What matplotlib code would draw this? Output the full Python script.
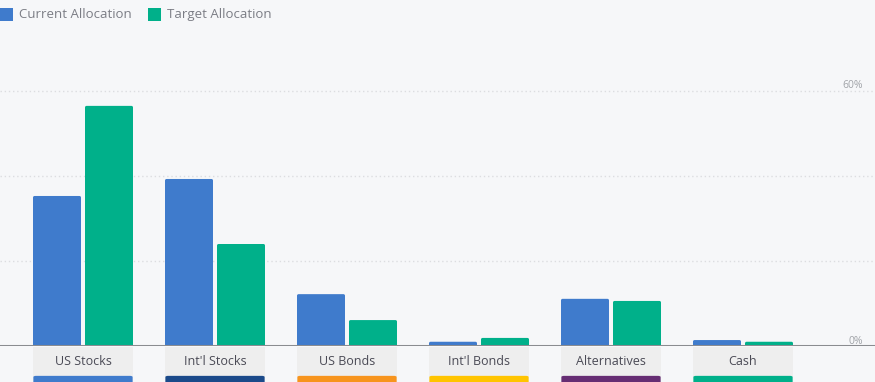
import matplotlib
matplotlib.use("Agg")
import matplotlib.pyplot as plt
from matplotlib.patches import FancyBboxPatch, Rectangle
import numpy as np

categories = ["US Stocks", "Int'l Stocks", "US Bonds", "Int'l Bonds", "Alternatives", "Cash"]
current = [35.3, 39.3, 12.2, 1.0, 11.1, 1.4]
target = [56.5, 24.0, 6.1, 1.9, 10.6, 1.0]
cat_colors = ["#3f7bcc", "#1b4a8a", "#f7941d", "#ffc400", "#662d73", "#00b08a"]
y_ticks = [0, 20, 40, 60]
y_labels = {0: "0%", 60: "60%"}

BLUE = "#3f7bcc"
GREEN = "#00b08a"
BG = "#f6f7f9"

plt.rcParams['font.family'] = ['Open Sans', 'DejaVu Sans']

W, H = 875, 382
fig = plt.figure(figsize=(W / 100, H / 100), dpi=100)
fig.patch.set_facecolor(BG)

# axes: x px 0..875, y px 346 (0%) .. 40
base_px = 346
top_px = 40
ppu = 4.25  # px per percent
ax = fig.add_axes([0, (H - base_px) / H, 1, (base_px - top_px) / H])
ax.set_facecolor(BG)
spacing = 132.0
c0 = 83.0
ax.set_xlim(-c0 / spacing, (W - c0) / spacing)
ax.set_ylim(0, (base_px - top_px) / ppu)
for s in ax.spines.values():
    s.set_visible(False)
ax.set_xticks([])
ax.set_yticks([])

x = np.arange(len(categories))
bw = 48 / spacing
off = 26 / spacing

# gridlines
for t in y_ticks[1:]:
    ax.axhline(t, color="#dcdde0", lw=1, ls=(0, (1, 2)), zorder=0)
ax.axhline(0, color="#8a8c90", lw=2.2, zorder=4)

def rbar(xc, h, color):
    r = 0.012
    p = FancyBboxPatch((xc - bw / 2 + r, 0), bw - 2 * r, max(h - r * spacing / ppu, 0.01),
                       boxstyle=f"round,pad={r},rounding_size={r}",
                       mutation_aspect=spacing / ppu,
                       facecolor=color, edgecolor="none", zorder=3)
    ax.add_patch(p)

for i in range(len(categories)):
    rbar(x[i] - off, current[i], BLUE)
    rbar(x[i] + off, target[i], GREEN)

for t, lab in y_labels.items():
    ax.text((863 - c0) / spacing, t + 5 / ppu, lab, ha="right", va="center",
            fontsize=7.5, color="#a0a3a8")

# category label boxes (figure pixel coords)
for i, (cat, col) in enumerate(zip(categories, cat_colors)):
    cx = c0 + spacing * i
    left = cx - 50
    # gray box
    fig.add_artist(Rectangle((left / W, 0), 100 / W, (H - 347) / H,
                             transform=fig.transFigure, facecolor="#eeeeee",
                             edgecolor="none", zorder=1))
    # strip (rounded bottom)
    fig.add_artist(FancyBboxPatch(((left + 3) / W, -4 / H), 94 / W, 9 / H,
                                  boxstyle="round,pad=0.003,rounding_size=0.003",
                                  transform=fig.transFigure, facecolor=col,
                                  edgecolor="none", zorder=2))
    fig.text(cx / W, (H - 361.5) / H, cat, ha="center", va="center",
             fontsize=9, color="#4a4a55")

# legend
fig.add_artist(Rectangle((0, (H - 21) / H), 13 / W, 13 / H, transform=fig.transFigure,
                         facecolor=BLUE, edgecolor="none"))
fig.text(19 / W, (H - 14.5) / H, "Current Allocation", ha="left", va="center",
         fontsize=9.5, color="#7b7d85")
fig.add_artist(Rectangle((148 / W, (H - 21) / H), 13 / W, 13 / H, transform=fig.transFigure,
                         facecolor=GREEN, edgecolor="none"))
fig.text(167 / W, (H - 14.5) / H, "Target Allocation", ha="left", va="center",
         fontsize=9.5, color="#7b7d85")

fig.savefig("out.png", dpi=100, facecolor=BG)
